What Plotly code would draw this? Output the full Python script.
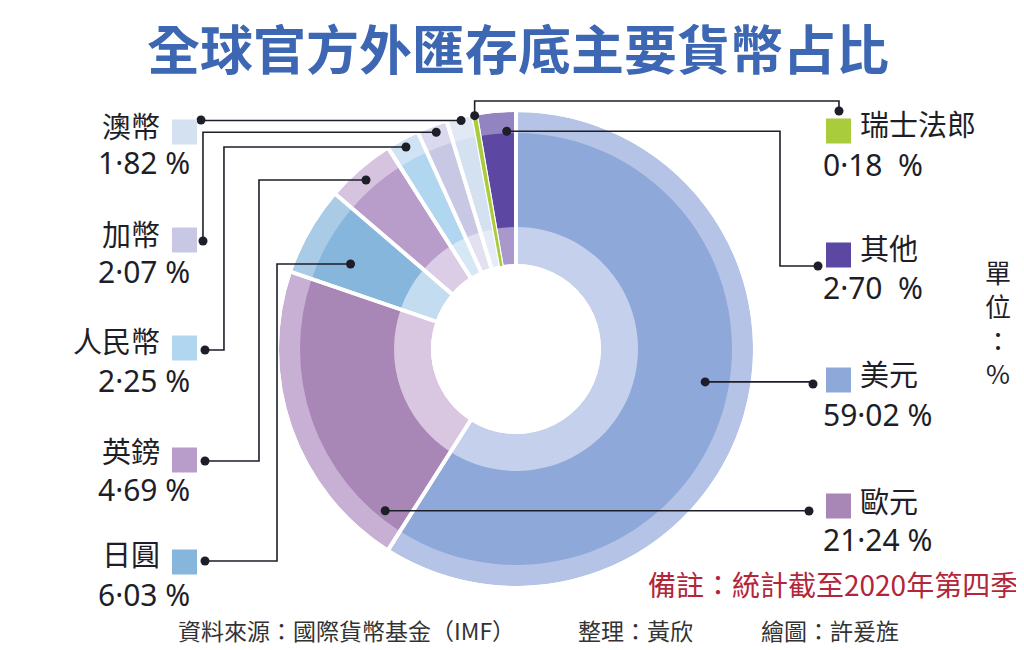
import math
import plotly.graph_objects as go

# data
currencies = ["美元", "歐元", "日圓", "英鎊", "人民幣", "加幣", "澳幣", "瑞士法郎", "其他"]
shares = [59.02, 21.24, 6.03, 4.69, 2.25, 2.07, 1.82, 0.18, 2.70]
pct_text = ["59·02 %", "21·24 %", "6·03 %", "4·69 %", "2·25 %", "2·07 %", "1·82 %", "0·18  %", "2·70  %"]

main_colors = ["#8fa8da", "#a886b6", "#87b6dd", "#b89cc9", "#b0d6f0", "#c8c8e5", "#d3e1f1", "#a8cc3c", "#5c48a2"]
rim_colors = ["#b5c4e6", "#c7b0d4", "#a9cbe6", "#d5c3df", "#cfe3f4", "#dbd9ee", "#e2e9f5", "#a8cc3c", "#9284c0"]
inner_colors = ["#c5d1ec", "#d9c6e0", "#c3dcf0", "#dacde5", "#d6e8f5", "#e3e0f0", "#e6ecf7", "#a8cc3c", "#a898cc"]

W, H = 1024, 650
CX, CY = 508, 341
R_OUT, R_MID, R_IN, R_HOLE = 237, 216, 122, 85

FONT = "Noto Sans CJK TC"
NUM_FONT = "Noto Sans, Noto Sans CJK TC"
INK = "#1e1e28"
DY = -8  # CJK line box sits a bit low


def px(x, y):
    return x / W, 1 - y / H


def domain(r):
    return dict(x=[(CX - r) / W, (CX + r) / W], y=[(H - CY - r) / H, (H - CY + r) / H])


def ring(r_outer, r_inner, colors, line_color="white", line_width=0):
    return go.Pie(
        labels=currencies, values=shares, sort=False, direction="clockwise", rotation=0,
        domain=domain(r_outer), hole=r_inner / r_outer, textinfo="none",
        marker=dict(colors=colors, line=dict(color=line_color, width=line_width)),
        hovertemplate="%{label}: %{value}%<extra></extra>", showlegend=False,
    )


def text(t, x, y, anchor, size, color=INK, family=FONT, **font_kw):
    ax, ay = px(x, y + DY)
    return dict(text=t, x=ax, y=ay, xref="paper", yref="paper", xanchor=anchor, yanchor="middle",
                showarrow=False, font=dict(family=family, size=size, color=color, **font_kw))


fig = go.Figure()
fig.add_trace(ring(R_OUT, R_MID - 1, rim_colors))
fig.add_trace(ring(R_MID, R_IN - 1, main_colors))
fig.add_trace(ring(R_IN, R_HOLE, inner_colors))
# white gaps between slices
fig.add_trace(ring(R_OUT + 2, R_HOLE - 2, ["rgba(0,0,0,0)"] * len(shares), "white", 3.8))
# swiss franc sliver on top of the gaps
green_only = ["rgba(0,0,0,0)" if c != "瑞士法郎" else main_colors[i] for i, c in enumerate(currencies)]
green_line = [0 if c != "瑞士法郎" else 1.6 for c in currencies]
fig.add_trace(go.Pie(
    labels=currencies, values=shares, sort=False, direction="clockwise", rotation=0,
    domain=domain(R_OUT), hole=R_HOLE / R_OUT, textinfo="none",
    marker=dict(colors=green_only, line=dict(color=main_colors[7], width=green_line)),
    hoverinfo="skip", showlegend=False,
))

# label placement (pixels): side, name y, pct y, square y, leader dot on chart (frac in slice, radius), route
label_pos = {
    "美元": dict(side="R", y=373, py=412, sy=372, frac=0.47, r=192, route=("h", 805, 376, 805)),
    "歐元": dict(side="R", y=500, py=537, sy=498, frac=0.085, r=208, route=("h", 801, 503, 801)),
    "日圓": dict(side="L", y=553, py=592, sy=554, frac=0.38, r=186, route=("h", 269, 553, 197)),
    "英鎊": dict(side="L", y=450, py=487, sy=452, frac=0.46, r=226, route=("h", 251, 453, 197)),
    "人民幣": dict(side="L", y=340, py=378, sy=340, frac=0.48, r=230, route=("h", 216, 342, 197)),
    "加幣": dict(side="L", y=233, py=270, sy=232, frac=0.56, r=231, route=("h", 195, 233, 195)),
    "澳幣": dict(side="L", y=125, py=160, sy=124, frac=0.52, r=235, route=("h", 193, 112, 193)),
    "瑞士法郎": dict(side="R", y=123, py=162, sy=123, frac=0.5, r=237, route=("v", 93, 103, 831)),
    "其他": dict(side="R", y=247, py=285, sy=247, frac=0.75, r=218, route=("h", 772, 258, 810)),
}

shapes = []
annotations = []
start = 0.0
for name, val, pct, col in zip(currencies, shares, pct_text, main_colors):
    p = label_pos[name]
    ang = math.radians((start + p["frac"] * val) / 100 * 360)
    start += val
    cx = CX + p["r"] * math.sin(ang)
    cy = CY - p["r"] * math.cos(ang)

    kind, a, ly, lx = p["route"]
    if kind == "h":
        pts = [(cx, cy), (a, cy), (a, ly), (lx, ly)]
    else:
        pts = [(cx, cy), (cx, a), (lx, a), (lx, ly)]
    path = "M " + " L ".join("%.4f,%.4f" % px(x, y) for x, y in pts)
    shapes.append(dict(type="path", path=path, xref="paper", yref="paper",
                       line=dict(color=INK, width=1.6), layer="above"))
    for x, y in (pts[0], pts[-1]):
        x0, y0 = px(x - 4.5, y + 4.5)
        x1, y1 = px(x + 4.5, y - 4.5)
        shapes.append(dict(type="circle", xref="paper", yref="paper", x0=x0, y0=y0, x1=x1, y1=y1,
                           fillcolor=INK, line=dict(width=0), layer="above"))

    if p["side"] == "L":
        sq_x0, name_x, name_anchor, pct_x, pct_anchor = 164, 154, "right", 184, "right"
    else:
        sq_x0, name_x, name_anchor, pct_x, pct_anchor = 818, 850, "left", 813, "left"
    x0, y0 = px(sq_x0, p["sy"] + 12.5)
    x1, y1 = px(sq_x0 + 25, p["sy"] - 12.5)
    shapes.append(dict(type="rect", xref="paper", yref="paper", x0=x0, y0=y0, x1=x1, y1=y1,
                       fillcolor=col, line=dict(width=0)))
    annotations.append(text(name, name_x, p["y"], name_anchor, 29))
    annotations.append(text(pct, pct_x, p["py"] + 2, pct_anchor, 30, family=NUM_FONT))

# unit, vertical
annotations.append(text("單<br>位<br>：<br>%", 990, 322, "center", 26))

annotations.append(text("全球官方外匯存底主要貨幣占比", 510, 47, "center", 53, color="#3d66b3", weight="bold"))
annotations.append(text("備註：統計截至2020年第四季", 1012, 584, "right", 28, color="#b3263a"))
for txt, xl in [("資料來源：國際貨幣基金（IMF）", 168), ("整理：黃欣", 568), ("繪圖：許爰旌", 751)]:
    annotations.append(text(txt, xl, 630, "left", 23, color="#333333"))

fig.update_layout(
    width=W, height=H, margin=dict(l=0, r=0, t=0, b=0),
    paper_bgcolor="white", plot_bgcolor="white",
    shapes=shapes, annotations=annotations, showlegend=False,
)

fig.write_html("out.html")
